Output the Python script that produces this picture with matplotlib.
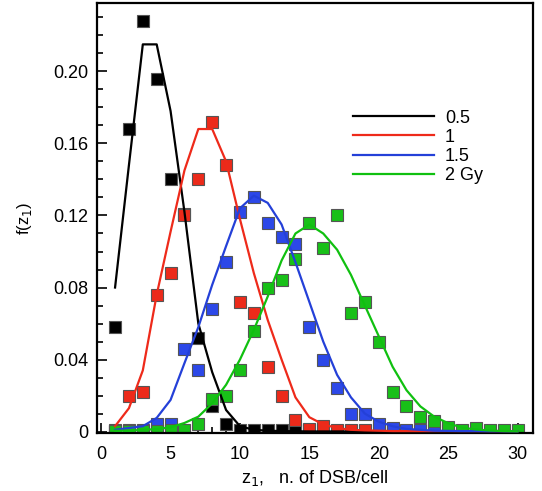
import numpy as np
import matplotlib.pyplot as plt

plt.rcParams['font.family'] = ['Liberation Sans', 'DejaVu Sans']

# measured points (squares)
x_black = np.arange(1, 16)
y_black = [0.058, 0.168, 0.228, 0.196, 0.140, 0.121, 0.052, 0.014, 0.004, 0.0008,
           0.0008, 0.0008, 0.0008, 0.0010, 0.0010]
x_red = np.arange(1, 22)
y_red = [0.001, 0.020, 0.022, 0.076, 0.088, 0.120, 0.140, 0.172, 0.148, 0.072,
         0.066, 0.036, 0.020, 0.0065, 0.0013, 0.003, 0.001, 0.001, 0.001, 0.0008, 0.0008]
x_blue = np.arange(1, 25)
y_blue = [0.0005, 0.001, 0.001, 0.004, 0.004, 0.046, 0.034, 0.068, 0.094, 0.122,
          0.130, 0.116, 0.108, 0.104, 0.058, 0.040, 0.024, 0.010, 0.010, 0.004,
          0.002, 0.001, 0.001, 0.001]
x_green = np.arange(1, 31)
y_green = [0.0005, 0.0005, 0.0005, 0.0005, 0.001, 0.001, 0.004, 0.018, 0.020, 0.034,
           0.056, 0.080, 0.084, 0.096, 0.116, 0.102, 0.120, 0.066, 0.072, 0.050,
           0.022, 0.014, 0.008, 0.006, 0.0024, 0.001, 0.002, 0.001, 0.001, 0.001]

# model curves
x_fit = np.arange(1, 31)
fit_black = [0.080, 0.148, 0.215, 0.215, 0.178, 0.122, 0.060, 0.033, 0.012, 0.003,
             0.001, 0.0005, 0.0003, 0.0002, 0.0001] + [0.0001] * 15
fit_red = [0.003, 0.013, 0.034, 0.076, 0.111, 0.145, 0.168, 0.168, 0.150, 0.118,
           0.088, 0.062, 0.040, 0.019, 0.008, 0.004, 0.002, 0.001, 0.0007, 0.0005] + [0.0003] * 10
fit_blue = [0.001, 0.002, 0.003, 0.0076, 0.0176, 0.038, 0.058, 0.0815, 0.103, 0.124,
            0.131, 0.127, 0.115, 0.094, 0.072, 0.050, 0.0315, 0.019, 0.010, 0.0055,
            0.003, 0.0015, 0.001, 0.0005, 0.0004, 0.0003, 0.0003, 0.0002, 0.0002, 0.0002]
fit_green = [0.0005, 0.0005, 0.001, 0.0014, 0.0024, 0.0048, 0.0083, 0.0157, 0.026, 0.040,
             0.0565, 0.075, 0.095, 0.110, 0.115, 0.110, 0.101, 0.087, 0.070, 0.053,
             0.036, 0.023, 0.014, 0.0083, 0.0047, 0.0022, 0.0012, 0.0006, 0.0003, 0.0002]

labels = ['0.5', '1', '1.5', '2 Gy']
mcolors = ['#000000', '#ec2a1a', '#2c48e8', '#18c018']
lcolors = ['#000000', '#ee2a1a', '#2440d8', '#10c010']

fig = plt.figure(figsize=(5.42, 4.91), dpi=100)
ax = fig.add_axes([0.179, 0.118, 0.804, 0.876])

pts = [(x_black, y_black), (x_red, y_red), (x_blue, y_blue), (x_green, y_green)]
fits = [fit_black, fit_red, fit_blue, fit_green]

for (xs, ys), c in zip(pts, mcolors):
    ax.plot(xs, ys, 's', ms=8, mfc=c, mec='#555555', mew=0.8, ls='none', zorder=2)
for f, c, lab in zip(fits, lcolors, labels):
    ax.plot(x_fit, f, '-', color=c, lw=1.6, label=lab, zorder=3)

ax.set_xlim(-0.3, 31.1)
ax.set_ylim(-0.0008, 0.238)
ax.set_xticks(np.arange(0, 31, 5))
ax.set_xticks(np.arange(0, 31, 1), minor=True)
ax.set_yticks([0, 0.04, 0.08, 0.12, 0.16, 0.20])
ax.set_yticklabels(['0', '0.04', '0.08', '0.12', '0.16', '0.20'])
ax.set_yticks(np.arange(0, 0.235, 0.01), minor=True)
ax.tick_params(which='both', direction='in', top=False, right=False, labelsize=13, width=1.2)
ax.tick_params(which='major', length=7)
ax.tick_params(which='minor', length=4)
ax.tick_params(axis='x', pad=9)
ax.tick_params(axis='y', pad=6)
for s in ax.spines.values():
    s.set_linewidth(1.6)

ax.set_xlabel(r'z$_1$,   n. of DSB/cell', fontsize=13, labelpad=4)
ax.set_ylabel(r'f(z$_1$)', fontsize=12, labelpad=14)

ax.legend(loc='upper left', bbox_to_anchor=(0.55, 0.79), frameon=False, fontsize=13,
          handlelength=4.5, handletextpad=0.6, labelspacing=0.12)

fig.savefig('out.png', dpi=100)
